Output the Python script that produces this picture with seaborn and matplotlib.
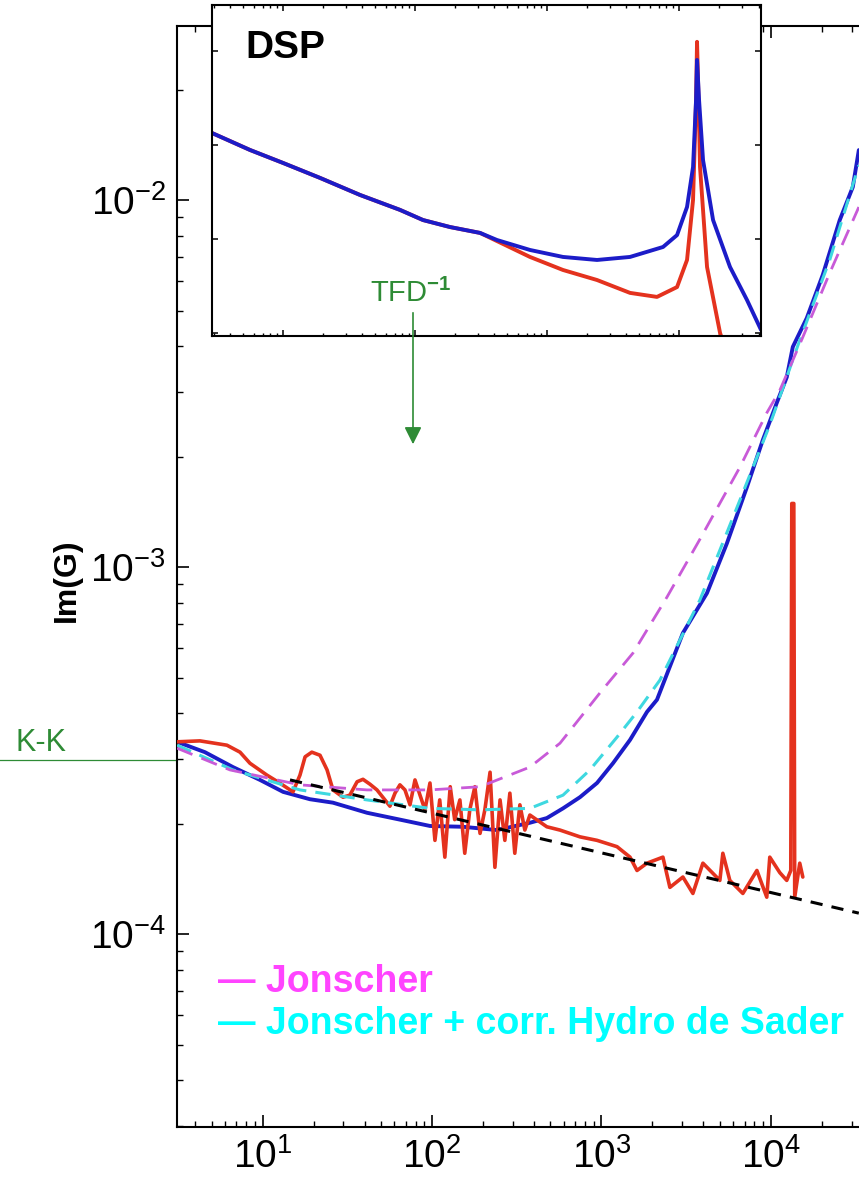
import numpy as np
import matplotlib
matplotlib.use("Agg")
import matplotlib.pyplot as plt
from matplotlib.patches import FancyArrowPatch
from matplotlib.ticker import LogLocator, NullLocator
import seaborn as sns

# Donnees - figure principale Im(G) en fonction de la frequence (Hz)
f_bleu = [3.12, 4.56, 6.68, 9.64, 13.2, 19.0, 26.0, 41.3, 64.6, 97.2, 152, 242, 378, 476, 593,
          747, 942, 1170, 1475, 1858, 2128, 3027, 4198, 5504, 7223, 8974, 10840, 12420, 13490,
          16310, 20260, 25530, 30480, 33090]
img_bleu = [3.34e-4, 3.13e-4, 2.85e-4, 2.63e-4, 2.44e-4, 2.33e-4, 2.28e-4, 2.14e-4, 2.05e-4,
            1.97e-4, 1.96e-4, 1.92e-4, 2.01e-4, 2.07e-4, 2.20e-4, 2.36e-4, 2.58e-4, 2.92e-4,
            3.38e-4, 4.03e-4, 4.35e-4, 6.61e-4, 8.49e-4, 1.16e-3, 1.65e-3, 2.22e-3, 2.80e-3,
            3.29e-3, 3.98e-3, 4.77e-3, 6.25e-3, 8.82e-3, 1.085e-2, 1.368e-2]

f_rouge = [3.12, 4.26, 6.15, 7.35, 8.41, 10.6, 12.6, 15.1, 16.6, 17.8, 19.5, 21.8, 24.0, 26.0,
           29.8, 32.7, 36.1, 39.1, 43.0, 47.3, 52.7, 56.4, 60.4, 64.6, 69.2, 74.1, 79.3, 84.9,
           90.8, 97.2, 104, 111, 119, 128, 136, 146, 156, 167, 179, 192, 205, 220, 235, 252,
           269, 288, 308, 330, 353, 378, 476, 569, 747, 942, 1236, 1475, 1622, 1858, 2307,
           2536, 3027, 3467, 3972, 5002, 5210, 5728, 6838, 8276, 9466, 9862, 11300, 12420,
           13120, 13300, 13670, 13840, 14820, 15450]
img_rouge = [3.34e-4, 3.36e-4, 3.27e-4, 3.13e-4, 2.92e-4, 2.71e-4, 2.58e-4, 2.44e-4, 2.71e-4,
             3.04e-4, 3.13e-4, 3.07e-4, 2.80e-4, 2.47e-4, 2.36e-4, 2.39e-4, 2.60e-4, 2.64e-4,
             2.56e-4, 2.47e-4, 2.32e-4, 2.23e-4, 2.42e-4, 2.55e-4, 2.47e-4, 2.25e-4, 2.63e-4,
             2.39e-4, 2.18e-4, 2.58e-4, 1.80e-4, 2.32e-4, 1.62e-4, 2.52e-4, 2.05e-4, 2.32e-4,
             1.66e-4, 2.18e-4, 2.52e-4, 1.88e-4, 2.18e-4, 2.76e-4, 1.52e-4, 2.32e-4, 1.80e-4,
             2.42e-4, 1.66e-4, 2.25e-4, 1.92e-4, 2.11e-4, 1.96e-4, 1.92e-4, 1.84e-4, 1.80e-4,
             1.73e-4, 1.62e-4, 1.49e-4, 1.56e-4, 1.62e-4, 1.34e-4, 1.43e-4, 1.29e-4, 1.56e-4,
             1.40e-4, 1.66e-4, 1.40e-4, 1.29e-4, 1.49e-4, 1.26e-4, 1.62e-4, 1.47e-4, 1.40e-4,
             1.49e-4, 1.49e-3, 1.49e-3, 1.26e-4, 1.56e-4, 1.43e-4]

# modele de Jonscher
f_jon = [3.12, 6.41, 16.6, 41.3, 97.2, 192, 378, 569, 980, 1536, 2437, 3812, 6565, 9466,
         11300, 15450, 22280, 33090]
img_jon = [3.21e-4, 2.80e-4, 2.55e-4, 2.47e-4, 2.47e-4, 2.52e-4, 2.85e-4, 3.31e-4, 4.54e-4,
           5.83e-4, 8.28e-4, 1.19e-3, 1.87e-3, 2.63e-3, 3.03e-3, 4.23e-3, 6.33e-3, 9.57e-3]

# Jonscher + correction hydrodynamique de Sader
f_sader = [3.12, 6.68, 16.6, 41.3, 97.2, 192, 378, 593, 855, 1236, 1622, 2215, 3812, 6565,
           9862, 14820, 22280, 33090]
img_sader = [3.27e-4, 2.80e-4, 2.47e-4, 2.32e-4, 2.20e-4, 2.18e-4, 2.20e-4, 2.39e-4, 2.80e-4,
             3.44e-4, 4.03e-4, 4.92e-4, 8.13e-4, 1.52e-3, 2.44e-3, 4.15e-3, 6.87e-3, 1.244e-2]

# loi de puissance (tirets noirs)
f_loi = [14.5, 33090]
img_loi = [2.63e-4, 1.14e-4]

kk_niveau = 2.98e-4

# Donnees - encart DSP
f_dsp_bleu = [2.90, 5.62, 10, 19.1, 38.3, 76.9, 115, 184, 311, 418, 743, 1321, 2393, 4254,
              7568, 9660, 11500, 12770, 13460, 13690, 14180, 15200, 16590, 18110, 24330,
              32740, 41780]
dsp_bleu = [1.34e-11, 8.85e-12, 6.44e-12, 4.46e-12, 2.94e-12, 2.04e-12, 1.59e-12, 1.34e-12,
            1.16e-12, 9.75e-13, 7.64e-13, 6.44e-13, 5.98e-13, 6.44e-13, 8.22e-13, 1.10e-12,
            2.19e-12, 5.83e-12, 3.01e-11, 8.02e-11, 3.01e-11, 6.92e-12, 3.32e-12, 1.59e-12,
            5.04e-13, 2.24e-13, 1.08e-13]
f_dsp_rouge = [2.90, 5.62, 10, 19.1, 38.3, 76.9, 115, 184, 311, 743, 1321, 2393, 4254, 6810,
               9660, 11500, 12770, 13460, 13690, 14180, 14420, 16300, 20460, 21930]
dsp_rouge = [1.34e-11, 8.85e-12, 6.44e-12, 4.46e-12, 2.94e-12, 2.04e-12, 1.59e-12, 1.34e-12,
             1.16e-12, 6.44e-13, 4.68e-13, 3.66e-13, 2.67e-13, 2.42e-13, 3.08e-13, 5.98e-13,
             2.60e-12, 3.01e-11, 1.25e-10, 1.85e-11, 5.83e-12, 5.04e-13, 1.00e-13, 7.45e-14]

ROUGE = '#E4321E'
BLEU = '#1C1CC8'
CYAN = '#3ED8E0'
ROSE = '#C85AD8'
VERT = '#2E8B35'

# Style
sns.set_style("ticks")
plt.rcParams['font.family'] = ['Liberation Sans', 'DejaVu Sans']
plt.rcParams['mathtext.fontset'] = 'custom'
plt.rcParams['mathtext.rm'] = 'Liberation Sans'
plt.rcParams['mathtext.bf'] = 'Liberation Sans:bold'
plt.rcParams['text.color'] = 'black'
plt.rcParams['xtick.color'] = 'black'
plt.rcParams['ytick.color'] = 'black'

W, H = 859, 1195
fig = plt.figure(figsize=(W / 100, H / 100), dpi=100)

# Figure principale (le bord droit sort de l'image, comme dans l'original)
ax = fig.add_axes([177 / W, 1 - 1127 / H, 743 / W, 1101 / H])
ax.set_xscale('log')
ax.set_yscale('log')

sns.lineplot(x=f_bleu, y=img_bleu, ax=ax, color=BLEU, linewidth=2.8, errorbar=None, zorder=2)
sns.lineplot(x=f_rouge, y=img_rouge, ax=ax, color=ROUGE, linewidth=2.6, errorbar=None, zorder=3)
sns.lineplot(x=f_sader, y=img_sader, ax=ax, color=CYAN, linewidth=2.2, errorbar=None, zorder=4)
ax.lines[-1].set_dashes((5, 3))
sns.lineplot(x=f_jon, y=img_jon, ax=ax, color=ROSE, linewidth=2.0, errorbar=None, zorder=4)
ax.lines[-1].set_dashes((6, 3.5))
sns.lineplot(x=f_loi, y=img_loi, ax=ax, color='black', linewidth=2.2, errorbar=None, zorder=5)
ax.lines[-1].set_dashes((4, 3))

ax.set_xlim(3.12, 7.6e4)
ax.set_ylim(2.98e-5, 2.98e-2)
ax.set_xlabel('')
ax.set_ylabel('')

for axis in (ax.xaxis, ax.yaxis):
    axis.set_major_locator(LogLocator(base=10, numticks=20))
    axis.set_minor_locator(LogLocator(base=10, subs=np.arange(2, 10), numticks=20))
ax.tick_params(which='major', direction='in', length=8.5, width=1.2, top=True, right=True,
               labelsize=28, pad=8)
ax.tick_params(which='minor', direction='in', length=4.3, width=1.0, top=True, right=True)
for s in ax.spines.values():
    s.set_linewidth(1.5)
    s.set_color('black')

# ligne K-K
ax.plot([-0.3, 0.0], [kk_niveau, kk_niveau], transform=ax.get_yaxis_transform(),
        color=VERT, linewidth=0.9, clip_on=False)

# Encart DSP
axi = fig.add_axes([212 / W, 1 - 336 / H, 549 / W, 331 / H])
axi.set_xscale('log')
axi.set_yscale('log')
sns.lineplot(x=f_dsp_rouge, y=dsp_rouge, ax=axi, color=ROUGE, linewidth=2.8, errorbar=None)
sns.lineplot(x=f_dsp_bleu, y=dsp_bleu, ax=axi, color=BLEU, linewidth=2.8, errorbar=None)
axi.set_xlim(2.90, 41780)
axi.set_ylim(9.29e-14, 3.08e-10)
axi.set_xlabel('')
axi.set_ylabel('')
axi.xaxis.set_major_locator(LogLocator(base=10, numticks=20))
axi.xaxis.set_minor_locator(LogLocator(base=10, subs=np.arange(2, 10), numticks=20))
axi.yaxis.set_major_locator(LogLocator(base=10, numticks=20))
axi.yaxis.set_minor_locator(NullLocator())
axi.tick_params(which='major', direction='in', length=4.5, width=1.1, top=True, right=True,
                labelbottom=False, labelleft=False)
axi.tick_params(which='minor', direction='in', length=2.5, width=1.0, top=True, right=True)
for s in axi.spines.values():
    s.set_linewidth(1.5)
    s.set_color('black')

# Textes
fig.text(245 / W, 1 - 58 / H, 'DSP', fontsize=28, fontweight='bold', va='baseline')
fig.text(67 / W, 1 - 580 / H, 'Im(G)', rotation=90, fontsize=23, fontweight='bold',
         ha='center', va='center')
fig.text(15 / W, 1 - 751 / H, 'K-K', color=VERT, fontsize=22, va='baseline')
fig.text(370 / W, 1 - 302 / H, r'TFD$^{\mathbf{-1}}$', color=VERT, fontsize=21, va='baseline')
fig.add_artist(FancyArrowPatch((413 / W, 1 - 310 / H), (413 / W, 1 - 447 / H),
                               transform=fig.transFigure, arrowstyle='-|>', mutation_scale=26,
                               color=VERT, linewidth=1.2))
fig.text(218 / W, 1 - 992 / H, '— Jonscher', color='#FF44FF', fontsize=27,
         fontweight='bold', va='baseline')
fig.text(218 / W, 1 - 1034 / H, '— Jonscher + corr. Hydro de Sader', color='#00FFFF',
         fontsize=27, fontweight='bold', va='baseline')

fig.savefig('out.png', dpi=100)
